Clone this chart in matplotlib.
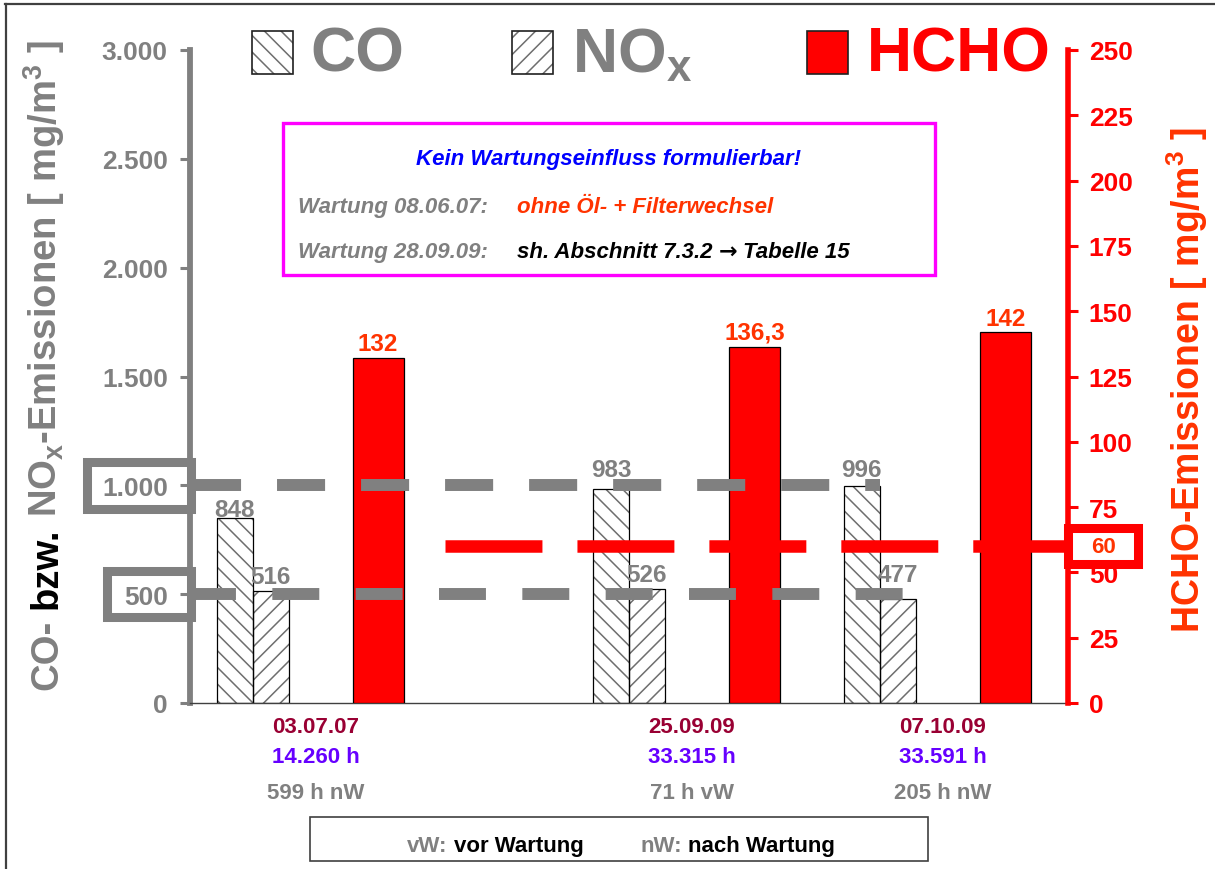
import matplotlib
matplotlib.use('Agg')
import matplotlib.pyplot as plt
from matplotlib.patches import Rectangle
from matplotlib.lines import Line2D
from matplotlib.ticker import FixedLocator, FuncFormatter
from matplotlib.transforms import blended_transform_factory

plt.rcParams['font.family'] = ['Liberation Sans', 'DejaVu Sans']
plt.rcParams['font.weight'] = 'bold'
plt.rcParams['mathtext.fontset'] = 'custom'
plt.rcParams['mathtext.rm'] = 'Liberation Sans:bold'
plt.rcParams['mathtext.it'] = 'Liberation Sans:bold'
plt.rcParams['mathtext.bf'] = 'Liberation Sans:bold'
plt.rcParams['mathtext.default'] = 'rm'
plt.rcParams['hatch.linewidth'] = 1.1
plt.rcParams['lines.scale_dashes'] = False

# ---- measurements -------------------------------------------------------
dates = ['03.07.07', '25.09.09', '07.10.09']
hours = ['14.260 h', '33.315 h', '33.591 h']
service_state = ['599 h nW', '71 h vW', '205 h nW']

co = [848, 983, 996]
nox = [516, 526, 477]
hcho = [132, 136.3, 142]

co_limit = 1000
nox_limit = 500
hcho_limit = 60

left_ticks = [0, 500, 1000, 1500, 2000, 2500, 3000]
right_ticks = [0, 25, 50, 75, 100, 125, 150, 175, 200, 225, 250]

# ---- layout --------------------------------------------------------------
pair_slot = [0, 3, 5]          # category slots holding the CO/NOx pair
hcho_slot = [1, 4, 6]          # category slots holding the HCHO bar
label_slot = [0.5, 3.5, 5.5]   # centre of each measurement group

# vertical gap (pixels) between a bar top and the baseline of its value label
co_lift = [2, 13, 10]
nox_lift = [8, 8, 18]
hcho_lift = [8, 8, 7]

GRAY = '#808080'
RED = '#FF0000'
ORANGE_RED = '#FF3300'
DATE_COL = '#990033'
HOUR_COL = '#6600FF'
HATCH_COL = '#6E6E6E'

W, H = 1215, 870
fig = plt.figure(figsize=(W / 100, H / 100), dpi=100)


def fx(px):
    return px / W


def fy(py):
    return 1 - py / H


ax = fig.add_axes([fx(190), fy(704), fx(1068) - fx(190), fy(51) - fy(704)])
ax2 = ax.twinx()

# ---- bars ----------------------------------------------------------------
pw = 0.287
for vals, off, hatch, lifts in ((co, -pw / 2, '\\\\', co_lift),
                                (nox, pw / 2, '//', nox_lift)):
    xs = [s + off for s in pair_slot]
    ax.bar(xs, vals, width=pw, facecolor='white', edgecolor=HATCH_COL,
           hatch=hatch, linewidth=0, zorder=2)
    ax.bar(xs, vals, width=pw, fill=False, edgecolor='black',
           linewidth=0.9, zorder=2.1)
    for x, v, lift in zip(xs, vals, lifts):
        ax.annotate(f'{v}', (x, v), xytext=(0, lift * 0.72),
                    textcoords='offset points', ha='center', va='baseline',
                    fontsize=17.5, color=GRAY, zorder=5)

ax2.bar(hcho_slot, hcho, width=0.407, color=RED, edgecolor='black',
        linewidth=0.9, zorder=2)
for x, v, lift in zip(hcho_slot, hcho, hcho_lift):
    ax2.annotate(f'{v:g}'.replace('.', ','), (x, v), xytext=(0, lift * 0.72),
                 textcoords='offset points', ha='center', va='baseline',
                 fontsize=17.5, color=ORANGE_RED, zorder=5)

# ---- limit lines (drawn above all bars) -----------------------------------
ax2.plot([-0.476, 5.0], [co_limit, co_limit], transform=ax.transData,
         color=GRAY, lw=8.6, dashes=(34.6, 25.9), dash_capstyle='butt',
         zorder=3)
ax2.plot([-0.51, 5.2], [nox_limit, nox_limit], transform=ax.transData,
         color=GRAY, lw=8.6, dashes=(33.8, 26.2), dash_capstyle='butt',
         zorder=3)
ax2.plot([1.53, 6.5], [hcho_limit, hcho_limit], color=RED, lw=9.0,
         dashes=(69.8, 25.2), dash_capstyle='butt', zorder=3)

# ---- axes styling ----------------------------------------------------------
ax.set_xlim(-0.5, 6.5)
ax.set_ylim(0, 3000)
ax2.set_ylim(0, 250)
ax.set_xticks([])

ax.yaxis.set_major_locator(FixedLocator(left_ticks))
ax.yaxis.set_major_formatter(FuncFormatter(lambda v, p: f'{int(v):,}'.replace(',', '.')))
ax2.yaxis.set_major_locator(FixedLocator(right_ticks))

ax.tick_params(axis='y', color=GRAY, labelcolor=GRAY, labelsize=19,
               direction='out', length=7, width=2.2, pad=9)
ax2.tick_params(axis='y', color=RED, labelcolor=RED, labelsize=19,
                direction='out', length=7, width=2.2, pad=8)

for s in ('top', 'right'):
    ax.spines[s].set_visible(False)
ax.spines['left'].set_color(GRAY)
ax.spines['left'].set_linewidth(4.2)
ax.spines['bottom'].set_color('#404040')
ax.spines['bottom'].set_linewidth(1.0)
for s in ('top', 'left', 'bottom'):
    ax2.spines[s].set_visible(False)
ax2.spines['right'].set_color(RED)
ax2.spines['right'].set_linewidth(4.0)

# ---- boxes around the limit values ----------------------------------------
def pix_y(axis, value):
    """Figure-pixel row (from top) of a data value on the given axis."""
    return H - axis.transData.transform((0, value))[1]


def frame(x0, x1, yc, half_h, color, face='none'):
    fig.patches.append(Rectangle((fx(x0), fy(yc + half_h)), (x1 - x0) / W,
                                 2 * half_h / H, transform=fig.transFigure,
                                 facecolor=face, edgecolor=color, lw=6.5,
                                 zorder=3))


frame(86.5, 190.5, pix_y(ax, co_limit), 23.5, GRAY)
frame(106.5, 190.5, pix_y(ax, nox_limit), 23, GRAY)
y60 = pix_y(ax2, hcho_limit)
frame(1067.5, 1137.5, y60, 18, RED, face='white')
fig.text(fx(1103), fy(y60), f'{hcho_limit}', ha='center', va='center',
         fontsize=16, color=ORANGE_RED, zorder=6)

# ---- helpers for multi-coloured text runs ---------------------------------
renderer = fig.canvas.get_renderer()


def space_width(size):
    a = fig.text(0, 0, 'a a', fontsize=size)
    b = fig.text(0, 0, 'aa', fontsize=size)
    w = a.get_window_extent(renderer).width - b.get_window_extent(renderer).width
    a.remove()
    b.remove()
    return w


def sequence(x_px, y_px, pieces, size, rotated=False, gap=True, **kw):
    sp = space_width(size)
    x, y = x_px, y_px
    for piece in pieces:
        txt, col = piece[0], piece[1]
        extra = piece[2] if len(piece) > 2 else {}
        t = fig.text(fx(x), fy(y), txt, fontsize=size, color=col,
                     rotation=90 if rotated else 0, rotation_mode='anchor',
                     ha='left', va='baseline', **{**kw, **extra})
        bb = t.get_window_extent(renderer)
        if rotated:
            y -= bb.height + sp
        else:
            x += bb.width + (sp if gap else 0)


# ---- axis titles -----------------------------------------------------------
sequence(57, 690, [('CO-', GRAY), ('bzw.', 'black'),
                   ('NO$_x$-Emissionen [ mg/m$^3$ ]', GRAY)], 27.5, rotated=True)

fig.text(fx(1187), fy(380), 'HCHO-Emissionen [ mg/m$^3$ ]', rotation=90,
         ha='center', va='center', fontsize=27, color=ORANGE_RED)

# ---- legend at the top -----------------------------------------------------
def swatch(x0, hatch=None, face='white'):
    if hatch:
        fig.patches.append(Rectangle((fx(x0), fy(75)), 41 / W, 43 / H,
                                     transform=fig.transFigure, facecolor='white',
                                     edgecolor=HATCH_COL, hatch=hatch, lw=0))
        face = 'none'
    fig.patches.append(Rectangle((fx(x0), fy(75)), 41 / W, 43 / H,
                                 transform=fig.transFigure, facecolor=face,
                                 edgecolor='#202020', lw=1.2))


swatch(252, hatch='\\\\')
swatch(512, hatch='//')
swatch(807, face=RED)
fig.text(fx(310), fy(72), 'CO', fontsize=45, color=GRAY, va='baseline')
fig.text(fx(572), fy(72), 'NO$_x$', fontsize=45, color=GRAY, va='baseline')
fig.text(fx(867), fy(72), 'HCHO', fontsize=45, color=RED, va='baseline')

# ---- note box ---------------------------------------------------------------
fig.patches.append(Rectangle((fx(283), fy(276)), (935 - 283) / W, (276 - 124) / H,
                             transform=fig.transFigure, facecolor='white',
                             edgecolor='#FF00FF', lw=2.4, zorder=2))
note = dict(fontsize=16, style='italic', va='baseline', zorder=4)
fig.text(fx(608), fy(165), 'Kein Wartungseinfluss formulierbar!', color='#0000FF',
         ha='center', **note)
fig.text(fx(298), fy(213), 'Wartung 08.06.07:', color=GRAY, **note)
fig.text(fx(517), fy(213), 'ohne Öl- + Filterwechsel', color=ORANGE_RED, **note)
fig.text(fx(298), fy(258), 'Wartung 28.09.09:', color=GRAY, **note)
sequence(517, 258, [('sh. Abschnitt 7.3.2', 'black'),
                    ('\u2192', 'black', {'family': 'DejaVu Sans', 'style': 'normal'}),
                    ('Tabelle 15', 'black')], 16, style='italic', zorder=4)

# ---- group labels under the axis -------------------------------------------
trans = blended_transform_factory(ax.transData, fig.transFigure)
for i, s in enumerate(label_slot):
    ax.text(s, fy(733), dates[i], transform=trans, ha='center', va='baseline',
            fontsize=16, color=DATE_COL)
    ax.text(s, fy(763), hours[i], transform=trans, ha='center', va='baseline',
            fontsize=16, color=HOUR_COL)
    ax.text(s, fy(799), service_state[i], transform=trans, ha='center',
            va='baseline', fontsize=16, color=GRAY)

# ---- abbreviation box --------------------------------------------------------
fig.patches.append(Rectangle((fx(310), fy(862)), (928 - 310) / W, 44 / H,
                             transform=fig.transFigure, facecolor='none',
                             edgecolor='#404040', lw=1.2))
sequence(407, 852, [('vW:', GRAY), ('vor Wartung', 'black')], 16)
sequence(640, 852, [('nW:', GRAY), ('nach Wartung', 'black')], 16)

# ---- outer frame (top and left edges) ----------------------------------------
fig.add_artist(Line2D([fx(5), 1], [fy(5), fy(5)], transform=fig.transFigure,
                      color='#404040', lw=1.6))
fig.add_artist(Line2D([fx(5.5), fx(5.5)], [fy(5), 0], transform=fig.transFigure,
                      color='#404040', lw=1.6))

fig.savefig('out.png', dpi=100, facecolor='white')
